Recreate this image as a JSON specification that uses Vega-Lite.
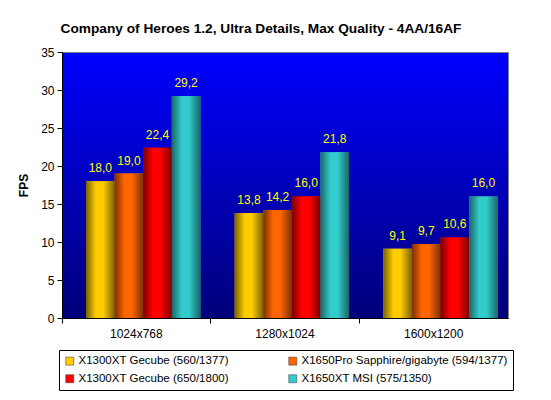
{
  "$schema": "https://vega.github.io/schema/vega-lite/v6.json",
  "width": 446,
  "height": 266,
  "autosize": "none",
  "padding": {"left": 62, "top": 52, "right": 43, "bottom": 82},
  "background": "white",
  "title": {
    "text": "Company of Heroes 1.2, Ultra Details, Max Quality - 4AA/16AF",
    "font": "Liberation Sans",
    "fontSize": 13.7,
    "fontWeight": "bold",
    "color": "black",
    "anchor": "middle",
    "dx": -24,
    "offset": 10
  },
  "config": {
    "locale": {"number": {"decimal": ",", "thousands": ".", "grouping": [3], "currency": ["", " €"]}},
    "view": {
      "stroke": "#808080",
      "strokeWidth": 1,
      "fill": {
        "gradient": "linear", "x1": 0, "y1": 0, "x2": 0, "y2": 1,
        "stops": [{"offset": 0, "color": "#0000FF"}, {"offset": 1, "color": "#000078"}]
      }
    },
    "axis": {
      "labelFont": "Liberation Sans",
      "labelFontSize": 12,
      "labelColor": "black",
      "titleFont": "Liberation Sans",
      "titleColor": "black",
      "domainColor": "black",
      "tickColor": "black",
      "grid": false
    },
    "legend": {
      "labelFont": "Liberation Sans",
      "labelFontSize": 11.5,
      "labelColor": "black"
    }
  },
  "data": {
    "values": [
      {"res": "1024x768", "card": "X1300XT Gecube (560/1377)", "fps": 18.0},
      {"res": "1024x768", "card": "X1650Pro Sapphire/gigabyte (594/1377)", "fps": 19.0},
      {"res": "1024x768", "card": "X1300XT Gecube (650/1800)", "fps": 22.4},
      {"res": "1024x768", "card": "X1650XT MSI (575/1350)", "fps": 29.2},
      {"res": "1280x1024", "card": "X1300XT Gecube (560/1377)", "fps": 13.8},
      {"res": "1280x1024", "card": "X1650Pro Sapphire/gigabyte (594/1377)", "fps": 14.2},
      {"res": "1280x1024", "card": "X1300XT Gecube (650/1800)", "fps": 16.0},
      {"res": "1280x1024", "card": "X1650XT MSI (575/1350)", "fps": 21.8},
      {"res": "1600x1200", "card": "X1300XT Gecube (560/1377)", "fps": 9.1},
      {"res": "1600x1200", "card": "X1650Pro Sapphire/gigabyte (594/1377)", "fps": 9.7},
      {"res": "1600x1200", "card": "X1300XT Gecube (650/1800)", "fps": 10.6},
      {"res": "1600x1200", "card": "X1650XT MSI (575/1350)", "fps": 16.0}
    ]
  },
  "encoding": {
    "x": {
      "field": "res",
      "type": "nominal",
      "sort": null,
      "scale": {"paddingInner": 0, "paddingOuter": 0},
      "axis": {"title": null, "labelAngle": 0, "labelPadding": 5, "tickSize": 5, "bandPosition": 0}
    },
    "xOffset": {
      "field": "card",
      "type": "nominal",
      "scale": {
        "domain": [
          "X1300XT Gecube (560/1377)",
          "X1650Pro Sapphire/gigabyte (594/1377)",
          "X1300XT Gecube (650/1800)",
          "X1650XT MSI (575/1350)"
        ],
        "paddingInner": 0, "paddingOuter": 0.6, "align": 0.7
      }
    },
    "y": {
      "field": "fps",
      "type": "quantitative",
      "scale": {"domain": [0, 35]},
      "axis": {
        "title": "FPS",
        "titleFontSize": 12,
        "titleFontWeight": "bold",
        "titlePadding": 10,
        "values": [0, 5, 10, 15, 20, 25, 30, 35],
        "tickSize": 5,
        "labelPadding": 3
      }
    }
  },
  "layer": [
    {
      "mark": {"type": "bar"},
      "encoding": {
        "fill": {
          "field": "card",
          "type": "nominal",
          "scale": {
            "domain": [
              "X1300XT Gecube (560/1377)",
              "X1650Pro Sapphire/gigabyte (594/1377)",
              "X1300XT Gecube (650/1800)",
              "X1650XT MSI (575/1350)"
            ],
            "range": ["#FFCC00", "#FF6600", "#FF0000", "#33CCCC"]
          },
          "legend": {
            "title": null,
            "orient": "none",
            "legendX": -3,
            "legendY": 298,
            "direction": "horizontal",
            "columns": 2,
            "gridAlign": "all",
            "columnPadding": 2,
            "rowPadding": 5,
            "symbolType": "square",
            "symbolSize": 64,
            "symbolStrokeColor": "#333333",
            "symbolStrokeWidth": 0.5,
            "labelOffset": 3,
            "labelLimit": 260,
            "strokeColor": "black",
            "padding": 5
          }
        }
      }
    },
    {
      "transform": [{"filter": "datum.card == 'X1300XT Gecube (560/1377)'"}],
      "mark": {"type": "bar", "fill": {"gradient": "linear", "x1": 0, "y1": 0, "x2": 1, "y2": 0,
        "stops": [{"offset": 0, "color": "#7a6200"}, {"offset": 0.35, "color": "#FFCC00"}, {"offset": 0.6, "color": "#FFCC00"}, {"offset": 1, "color": "#7a6200"}]}}
    },
    {
      "transform": [{"filter": "datum.card == 'X1650Pro Sapphire/gigabyte (594/1377)'"}],
      "mark": {"type": "bar", "fill": {"gradient": "linear", "x1": 0, "y1": 0, "x2": 1, "y2": 0,
        "stops": [{"offset": 0, "color": "#7a3000"}, {"offset": 0.35, "color": "#FF6600"}, {"offset": 0.6, "color": "#FF6600"}, {"offset": 1, "color": "#7a3000"}]}}
    },
    {
      "transform": [{"filter": "datum.card == 'X1300XT Gecube (650/1800)'"}],
      "mark": {"type": "bar", "fill": {"gradient": "linear", "x1": 0, "y1": 0, "x2": 1, "y2": 0,
        "stops": [{"offset": 0, "color": "#7a0000"}, {"offset": 0.35, "color": "#FF0000"}, {"offset": 0.6, "color": "#FF0000"}, {"offset": 1, "color": "#7a0000"}]}}
    },
    {
      "transform": [{"filter": "datum.card == 'X1650XT MSI (575/1350)'"}],
      "mark": {"type": "bar", "fill": {"gradient": "linear", "x1": 0, "y1": 0, "x2": 1, "y2": 0,
        "stops": [{"offset": 0, "color": "#1a6666"}, {"offset": 0.35, "color": "#33CCCC"}, {"offset": 0.6, "color": "#33CCCC"}, {"offset": 1, "color": "#1a6666"}]}}
    },
    {
      "mark": {"type": "text", "color": "#FFFF00", "dy": -6, "font": "Liberation Sans", "fontSize": 12, "baseline": "bottom"},
      "encoding": {
        "text": {"field": "fps", "type": "quantitative", "format": ".1f"}
      }
    }
  ]
}
